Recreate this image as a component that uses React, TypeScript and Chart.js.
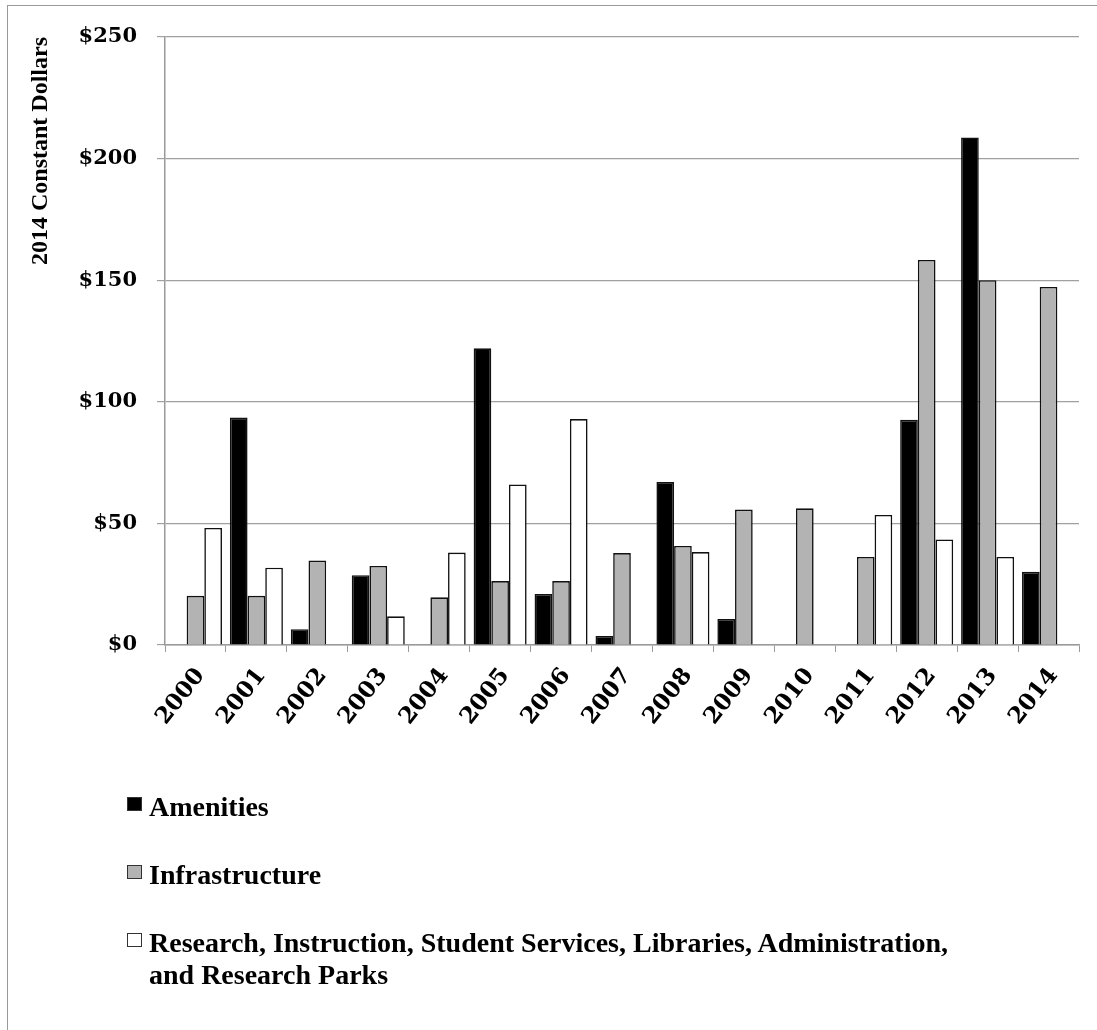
import React, { useEffect, useRef } from "react";
import { Chart, registerables } from "chart.js";

Chart.register(...registerables);

const years = ["2000", "2001", "2002", "2003", "2004", "2005", "2006", "2007", "2008", "2009", "2010", "2011", "2012", "2013", "2014"];
const amenities = [null, 93.5, 6.5, 28.7, null, 122, 21, 3.7, 67, 10.7, null, null, 92.6, 208.7, 30.1];
const infrastructure = [20.2, 20.2, 34.7, 32.5, 19.6, 26.3, 26.3, 37.8, 40.7, 55.7, 56.2, 36.2, 158.3, 150, 147.2];
const research = [48.1, 31.8, null, 11.8, 38, 66, 92.9, null, 38.2, null, null, 53.5, 43.4, 36.2, null];

const seriesNames = ["Amenities", "Infrastructure", "Research, Instruction, Student Services, Libraries, Administration, and Research Parks"];
const seriesColors = ["#000000", "#b3b3b3", "#ffffff"];
const yTicks = [0, 50, 100, 150, 200, 250];
const yTitle = "2014 Constant Dollars";

const yTickFont = { family: "'DejaVu Serif', serif", weight: "bold" as const, size: 21 };
const xTickFont = { family: "'DejaVu Serif', serif", weight: "bold" as const, size: 23 };

export default function App() {
  const canvasRef = useRef<HTMLCanvasElement | null>(null);

  useEffect(() => {
    const canvas = canvasRef.current;
    if (!canvas) return;
    const seriesData = [amenities, infrastructure, research];
    const chart = new Chart(canvas, {
      type: "bar",
      data: {
        labels: years,
        datasets: seriesData.map((d, i) => ({
          label: seriesNames[i],
          data: d,
          backgroundColor: seriesColors[i],
          borderColor: "#111111",
          borderWidth: 1.6,
          barPercentage: 1,
          categoryPercentage: 0.87,
        })),
      },
      options: {
        responsive: false,
        animation: false,
        devicePixelRatio: 1,
        layout: { padding: { top: 37, right: 18, left: 0, bottom: 255 } },
        plugins: { legend: { display: false }, tooltip: { enabled: false }, title: { display: false } },
        scales: {
          x: {
            grid: { drawOnChartArea: false, drawTicks: true, tickLength: 7, color: "#9a9a9a", offset: true },
            border: { color: "#9a9a9a", width: 1.5 },
            ticks: { font: xTickFont, color: "#000", maxRotation: 52, minRotation: 52, autoSkip: false, padding: 11, labelOffset: 5 },
            afterFit: (s: any) => { s.height = 130; },
          },
          y: {
            min: 0,
            max: 250,
            afterBuildTicks: (s: any) => { s.ticks = yTicks.map((v) => ({ value: v })); },
            ticks: { font: yTickFont, color: "#000", padding: 20, callback: (v: any) => "$" + v },
            grid: { color: "#a0a0a0", lineWidth: 1.2, tickLength: 8 },
            border: { color: "#9a9a9a", width: 1.5 },
            title: {
              display: true,
              text: yTitle,
              align: "end",
              color: "#000",
              font: { family: "'Liberation Serif', serif", weight: "bold", size: 24 },
              padding: { top: 26, bottom: 0 },
            },
            afterFit: (s: any) => { s.width = 165; },
          },
        },
      },
    });
    return () => chart.destroy();
  }, []);

  const legendRows = [
    { name: seriesNames[0], color: seriesColors[0], top: 791 },
    { name: seriesNames[1], color: seriesColors[1], top: 859 },
    { name: seriesNames[2], color: seriesColors[2], top: 927 },
  ];

  return (
    <div style={{ position: "fixed", left: 0, top: 0, width: 1097, height: 1030, background: "#fff", overflow: "hidden" }}>
      <div style={{ position: "absolute", left: 7, top: 5, right: -5, bottom: -5, borderLeft: "1.5px solid #999", borderTop: "1.5px solid #999" }} />
      <canvas ref={canvasRef} width={1097} height={1030} style={{ position: "absolute", left: 0, top: 0 }} />
      {legendRows.map((r, i) => (
        <div key={i} style={{ position: "absolute", left: 127, top: r.top, width: 840, display: "flex", alignItems: "flex-start", fontFamily: "'Liberation Serif', serif", fontWeight: "bold", fontSize: 28, lineHeight: "32px", color: "#000" }}>
          <span style={{ display: "inline-block", boxSizing: "border-box", width: 15, height: 14, marginTop: 6, marginRight: 7, flex: "0 0 auto", background: r.color, border: "1.5px solid #333" }} />
          <span>{r.name}</span>
        </div>
      ))}
    </div>
  );
}
